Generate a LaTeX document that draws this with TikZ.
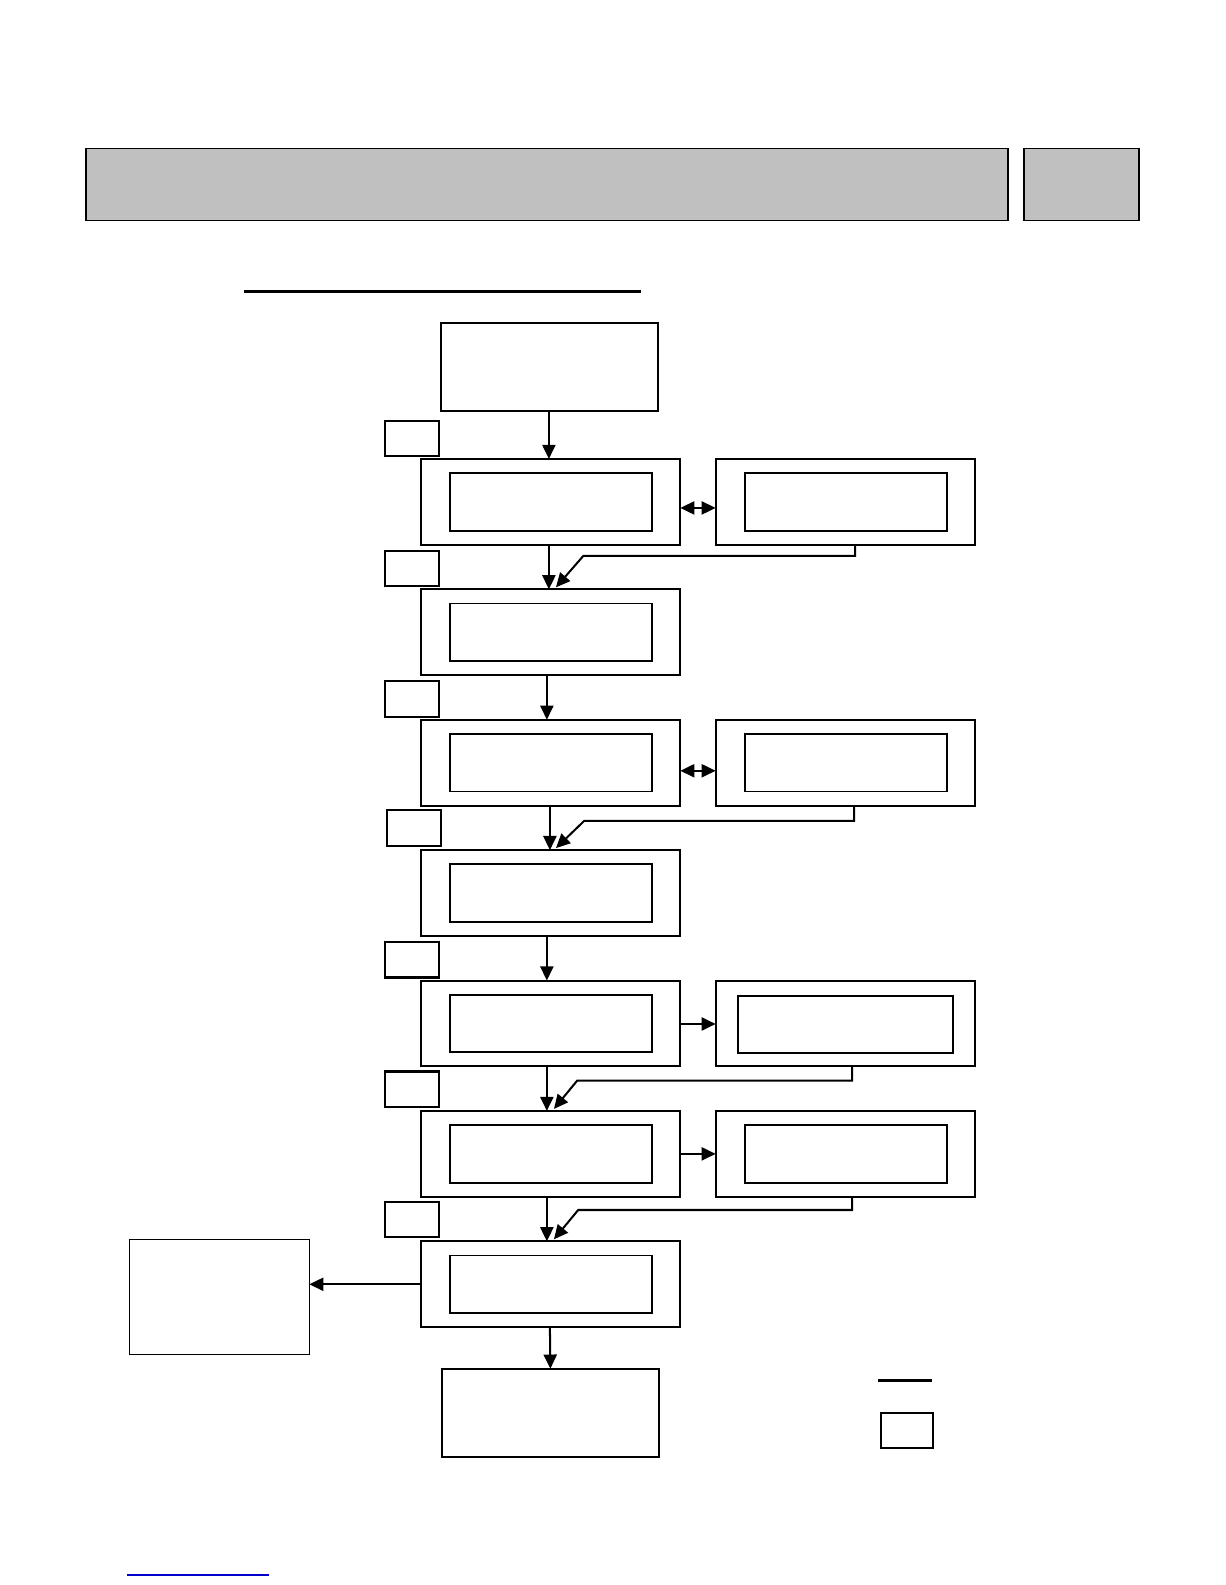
\documentclass[tikz,border=0pt]{standalone}
\usetikzlibrary{arrows.meta,calc}
\definecolor{hdrgray}{HTML}{C0C0C0}
\definecolor{linkblue}{HTML}{0000CC}
\tikzset{
  every node/.style={inner sep=0pt, outer sep=0pt},
  hdrbox/.style={draw=black, fill=hdrgray, line width=0.8pt, rectangle},
  outerbox/.style={draw=black, line width=1pt, rectangle, minimum width=128.5pt, minimum height=42.5pt},
  innerbox/.style={draw=black, line width=0.9pt, rectangle, minimum width=100pt, minimum height=28.5pt},
  labelbox/.style={draw=black, line width=1pt, rectangle, minimum width=26.5pt, minimum height=17.5pt},
  plainbox/.style={draw=black, line width=1pt, rectangle},
  tip/.tip={Triangle[length=7pt,width=6.5pt]},
  arr/.style={line width=1pt, -tip},
  dblarr/.style={line width=1pt, tip-tip},
}
\begin{document}
\begin{tikzpicture}[x=0.5pt,y=-0.5pt]
\useasboundingbox (0,0) rectangle (1212,1568);
% header
\node[hdrbox, minimum width=456pt, minimum height=35.5pt] (hdr) at (541,182.5) {};
\node[hdrbox, minimum width=57pt, minimum height=35.5pt] (hdrR) at (1070,182.5) {};
% title underline
\coordinate (ulA) at (241,288);
\coordinate (ulB) at (634,288);
\draw[line width=1.5pt] (ulA) -- (ulB);
% top and bottom boxes
\node[plainbox, minimum width=107.5pt, minimum height=43.5pt] (top) at (543.5,363.5) {};
\node[plainbox, minimum width=107.5pt, minimum height=43.5pt] (bot) at (544.5,1397.5) {};
\node[plainbox, line width=0.7pt, minimum width=89pt, minimum height=57pt] (lbox) at (217,1283) {};
% left column
\foreach \n/\y in {1/496.5,2/625.5,3/754.5,4/883.5,5/1012.5,6/1141.5,7/1270.5}{
  \node[outerbox] (r\n L) at (544.5,\y) {};
  \node[innerbox] (i\n L) at (545,\y) {};
}
% right column
\foreach \n/\y in {1/496.5,3/754.5,5/1012.5,6/1141.5}{
  \node[outerbox] (r\n R) at (836.5,\y) {};
}
\node[innerbox] (i1R) at (837,496.5) {};
\node[innerbox] (i3R) at (837,754.5) {};
\node[innerbox, minimum width=106.5pt] (i5R) at (836.5,1013.5) {};
\node[innerbox] (i6R) at (837,1141.5) {};
% step label boxes
\node[labelbox] (s1) at (407.5,433.5) {};
\node[labelbox] (s2) at (407.5,562.5) {};
\node[labelbox] (s3) at (407.5,691.5) {};
\node[labelbox] (s4) at (409.5,819) {};
\node[labelbox] (s5) at (407.5,949.5) {};
\node[labelbox] (s6) at (407.5,1077.5) {};
\node[labelbox] (s7) at (407.5,1206.5) {};
% legend
\coordinate (lgA) at (869,1366);
\coordinate (lgB) at (922,1366);
\draw[line width=1.5pt] (lgA) -- (lgB);
\node[labelbox, minimum width=25.5pt, minimum height=17pt] (lgbox) at (897.5,1415) {};
% blue link underline
\coordinate (lkA) at (126,1558);
\coordinate (lkB) at (266,1558);
\draw[linkblue, line width=1pt] (lkA) -- (lkB);
% vertical arrows
\draw[arr] ($(top.south)+(-0.5,0)$) -- ($(r1L.north)+(-1.5,0)$);
\draw[arr] ($(r1L.south)+(-1.5,0)$) -- ($(r2L.north)+(-1.5,0)$);
\draw[arr] ($(r2L.south)+(-3.5,0)$) -- ($(r3L.north)+(-3.5,0)$);
\draw[arr] ($(r3L.south)+(-0.5,0)$) -- ($(r4L.north)+(-0.5,0)$);
\draw[arr] ($(r4L.south)+(-3.5,0)$) -- ($(r5L.north)+(-3.5,0)$);
\draw[arr] ($(r5L.south)+(-3.5,0)$) -- ($(r6L.north)+(-3.5,0)$);
\draw[arr] ($(r6L.south)+(-3.5,0)$) -- ($(r7L.north)+(-3.5,0)$);
\draw[arr] ($(r7L.south)+(-0.5,0)$) -- (bot.north);
% horizontal arrows
\draw[dblarr] ($(r1L.east)+(0,6)$) -- ($(r1R.west)+(0,6)$);
\draw[dblarr] ($(r3L.east)+(0,8)$) -- ($(r3R.west)+(0,8)$);
\draw[arr] ($(r5L.east)+(0,0.5)$) -- ($(r5R.west)+(0,0.5)$);
\draw[arr] (r6L.east) -- (r6R.west);
\draw[arr] (r7L.west) -- (r7L.west -| lbox.east);
% elbow returns
\draw[arr] ($(r1R.south)+(9.5,0)$) |- ($(r2L.north)+(32.5,-33)$) -- ($(r2L.north)+(5.5,-2)$);
\draw[arr] ($(r3R.south)+(8.5,0)$) |- ($(r4L.north)+(33.5,-29)$) -- ($(r4L.north)+(5.5,-2)$);
\draw[arr] ($(r5R.south)+(6.5,0)$) |- ($(r6L.north)+(26.5,-30)$) -- ($(r6L.north)+(3.5,-2)$);
\draw[arr] ($(r6R.south)+(6.5,0)$) |- ($(r7L.north)+(27.5,-31)$) -- ($(r7L.north)+(3.5,-2)$);
\end{tikzpicture}
\end{document}
